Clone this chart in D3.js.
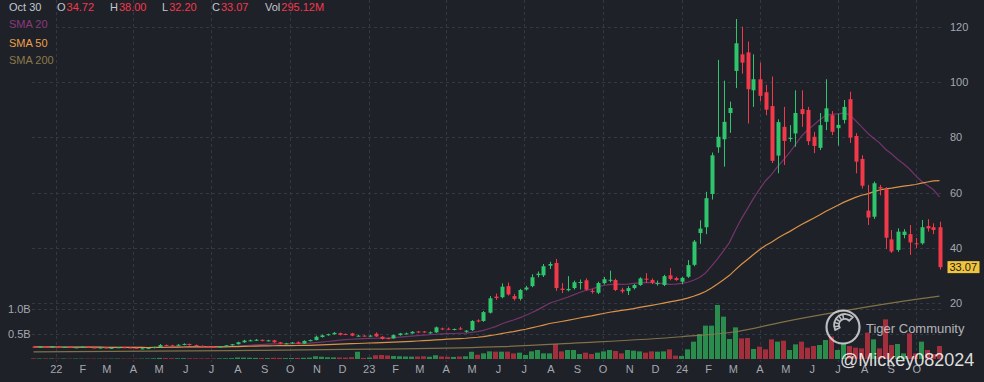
<!DOCTYPE html>
<html>
<head>
<meta charset="utf-8">
<script src="https://cdn.jsdelivr.net/npm/d3@7/dist/d3.min.js"></script>
<style>
    body { margin: 0; background: #1e2128; }
    svg { display: block; font-family: "Liberation Sans", Arial, sans-serif; }
</style>
</head>
<body>
<svg id="chart" width="984" height="382"></svg>
<script>
// weekly candles, first week starts Monday 2021-12-06
var firstWeek = "2021-12-06";

// [open, high, low, close]
var ohlc = [
    [4.3, 4.6, 4.0, 4.2], [4.2, 4.4, 4.0, 4.3], [4.3, 4.5, 4.0, 4.1], [4.1, 4.4, 4.0, 4.3],
    [4.3, 4.5, 4.0, 4.1], [4.1, 4.3, 3.9, 4.2], [4.2, 4.4, 3.9, 4.0], [4.0, 4.2, 3.7, 4.1],
    [4.1, 4.4, 3.9, 4.3], [4.3, 4.4, 3.9, 4.0], [4.0, 4.2, 3.8, 3.9], [3.9, 4.1, 3.7, 4.0],
    [4.0, 4.1, 3.7, 3.8], [3.8, 4.0, 3.6, 3.9], [3.9, 4.2, 3.8, 4.1], [4.1, 4.3, 3.9, 4.0],
    [4.0, 4.2, 3.8, 3.9], [3.9, 4.0, 3.5, 3.6], [3.6, 3.8, 3.4, 3.7], [3.7, 3.9, 3.5, 3.8],
    [3.8, 4.3, 3.7, 4.2], [4.2, 5.3, 4.1, 4.9], [4.9, 5.1, 4.5, 4.8], [4.8, 5.0, 4.5, 4.7],
    [4.7, 5.2, 4.6, 5.0], [5.0, 5.5, 4.8, 5.3], [5.3, 5.4, 4.7, 4.9], [4.9, 5.1, 4.5, 4.6],
    [4.6, 4.8, 4.2, 4.4], [4.4, 4.6, 4.1, 4.3], [4.3, 4.5, 4.0, 4.2], [4.2, 4.5, 4.0, 4.4],
    [4.4, 4.9, 4.3, 4.8], [4.8, 5.3, 4.7, 5.2], [5.2, 6.1, 5.1, 5.9], [5.9, 6.8, 5.7, 6.5],
    [6.5, 6.9, 6.3, 6.6], [6.6, 7.1, 6.4, 6.8], [6.8, 6.9, 6.2, 6.4], [6.4, 6.8, 6.2, 6.6],
    [6.6, 6.8, 5.7, 5.9], [5.9, 6.0, 5.2, 5.4], [5.4, 5.7, 5.2, 5.5], [5.5, 6.0, 5.4, 5.8],
    [5.9, 6.2, 5.2, 5.4], [5.4, 6.6, 5.3, 6.4], [6.4, 6.9, 6.2, 6.7], [6.7, 8.3, 6.6, 7.9],
    [7.8, 8.7, 7.6, 8.4], [8.5, 9.0, 8.3, 8.8], [8.8, 9.6, 8.6, 9.3], [9.2, 9.4, 8.4, 8.6],
    [8.9, 9.1, 8.5, 8.8], [9.1, 9.3, 8.1, 8.3], [8.2, 8.5, 7.9, 8.3], [8.3, 8.5, 8.0, 8.2],
    [8.2, 8.5, 7.9, 8.3], [9.0, 9.5, 7.8, 8.0], [7.9, 8.1, 6.9, 7.1], [7.4, 7.6, 7.0, 7.3],
    [7.3, 8.7, 7.2, 8.5], [8.5, 9.3, 8.3, 9.1], [9.0, 9.4, 8.8, 9.1], [9.1, 9.9, 9.0, 9.7],
    [9.8, 10.0, 9.3, 9.7], [9.8, 10.0, 9.3, 9.6], [9.3, 9.8, 9.0, 9.5], [9.5, 11.6, 9.3, 11.3],
    [10.9, 11.2, 10.3, 10.7], [10.8, 11.2, 10.3, 10.6], [10.5, 10.9, 10.2, 10.7], [10.9, 11.5, 10.4, 10.6],
    [9.7, 10.3, 9.4, 10.1], [10.3, 13.9, 10.0, 13.6], [13.8, 14.2, 13.1, 13.6], [13.6, 17.2, 13.3, 16.8],
    [16.6, 22.6, 16.3, 21.8], [22.4, 23.5, 21.2, 21.9], [22.2, 27.2, 21.8, 26.0], [26.2, 27.5, 22.8, 23.2],
    [22.6, 23.4, 21.0, 21.6], [21.6, 25.2, 21.0, 24.8], [25.0, 26.3, 24.6, 25.7], [26.2, 30.5, 25.8, 29.4],
    [30.2, 31.5, 29.4, 30.7], [30.1, 34.2, 29.5, 33.4], [33.6, 35.0, 32.4, 34.2], [34.6, 36.0, 24.5, 25.5],
    [25.3, 27.3, 23.7, 24.8], [24.7, 29.8, 24.3, 25.2], [25.5, 28.2, 25.0, 27.6], [27.4, 28.6, 25.0, 27.7],
    [28.3, 29.0, 24.6, 24.9], [24.5, 25.2, 23.5, 24.1], [23.8, 27.8, 23.3, 27.3], [27.3, 29.5, 26.8, 28.7],
    [28.2, 31.8, 27.6, 28.5], [28.4, 28.9, 24.4, 24.8], [24.9, 25.6, 23.6, 24.3], [24.4, 26.2, 23.0, 25.5],
    [25.5, 27.0, 25.0, 26.6], [26.6, 29.4, 26.3, 29.0], [28.9, 30.9, 27.3, 28.5], [28.4, 29.0, 26.9, 27.4],
    [27.1, 28.2, 26.4, 27.3], [26.6, 30.3, 26.2, 29.8], [30.1, 32.7, 28.3, 28.8], [29.1, 29.6, 28.1, 28.4],
    [27.8, 29.6, 26.9, 29.2], [29.6, 35.6, 29.2, 33.8], [33.9, 42.9, 33.4, 42.3], [45.4, 50.0, 41.5, 47.0],
    [47.5, 60.3, 45.0, 58.0], [59.5, 74.5, 57.5, 73.5], [76.4, 108.0, 74.4, 80.2], [79.3, 100.5, 69.4, 85.6],
    [88.8, 92.9, 81.6, 90.6], [104.0, 122.8, 97.8, 114.0], [110.0, 120.0, 103.0, 107.0], [110.7, 114.6, 85.0, 97.4],
    [97.0, 110.0, 91.0, 101.0], [101.0, 107.0, 93.0, 95.0], [96.3, 99.0, 88.0, 90.0], [91.3, 102.0, 70.7, 71.5],
    [73.4, 86.5, 67.0, 85.5], [83.8, 91.0, 70.0, 78.7], [79.4, 84.4, 78.4, 79.8], [81.4, 97.0, 76.6, 88.8],
    [90.2, 97.0, 83.8, 88.4], [89.9, 91.0, 77.2, 78.6], [80.2, 82.0, 74.3, 76.9], [76.2, 88.8, 75.4, 84.4],
    [85.6, 101.0, 82.6, 90.5], [88.0, 89.5, 80.8, 82.0], [83.3, 88.5, 77.0, 84.5], [86.3, 93.5, 85.0, 91.0],
    [93.8, 96.5, 78.0, 79.9], [80.5, 81.5, 67.0, 71.2], [72.2, 73.5, 61.5, 62.5], [53.5, 62.8, 48.3, 51.0],
    [51.3, 64.0, 50.5, 63.4], [62.0, 62.8, 59.0, 61.5], [61.3, 62.0, 39.6, 43.7], [43.1, 46.5, 38.2, 38.7],
    [39.3, 47.1, 38.6, 45.9], [44.7, 46.8, 43.5, 45.9], [45.0, 48.3, 37.5, 42.0], [41.7, 43.6, 40.0, 41.4],
    [41.7, 50.1, 41.2, 47.5], [47.9, 50.4, 45.9, 47.1], [47.5, 48.9, 45.0, 46.5], [47.5, 49.5, 32.2, 33.07]
];

// weekly volume, millions of shares
var volume = [
    14, 11, 12, 10,
    9, 10, 8, 9, 8, 9, 8, 7, 9, 8, 9, 8, 7, 9, 8, 10,
    14, 22, 18, 16, 15, 16, 14, 13, 12, 12, 11, 13, 15, 18,
    30, 28, 25, 22, 20, 18, 24, 22, 18, 20, 22, 24, 28,
    55, 45, 35, 32, 30, 28, 35, 145,
    22, 30, 75, 80, 70,
    60, 55, 50, 48, 50, 55, 45, 75, 50, 45, 42, 50, 55, 145, 85,
    113, 153, 147, 147, 147, 113, 127, 80, 153, 180, 113, 113, 300, 153, 180, 180, 100,
    127, 100, 127, 153, 180, 160, 113, 180, 167, 153, 127, 153, 147, 153, 193, 67,
    60, 193, 347, 500, 667, 667, 1080, 847, 400, 633, 413, 420, 200, 247, 193, 393,
    347, 367, 180, 293, 347, 227, 260, 280, 380,
    450, 180, 313, 260, 227, 213, 527, 393, 213, 793, 280, 300, 113, 513, 113, 347, 180, 100, 260
];

// SMA 200 (needs history older than the window)
var sma200Dates = ["2021-12-06", "2022-07-25", "2023-01-02", "2023-06-05", "2023-08-28", "2024-01-01",
    "2024-03-04", "2024-04-29", "2024-07-15", "2024-09-30", "2024-10-28"];
var sma200 = [2.4, 2.9, 3.4, 4.3, 5.6, 7.9, 9.7, 13.3, 17.6, 21.4, 22.6];

var priceTicks = [20, 40, 60, 80, 100, 120];
var volumeTicks = [500, 1000];
var volumeTickLabels = ["0.5B", "1.0B"];
var monthLetters = ["J", "F", "M", "A", "M", "J", "J", "A", "S", "O", "N", "D"];

var headerDate = "Oct 30";
var headerKeys = ["O", "H", "L", "C", "Vol"];
var headerValues = ["34.72", "38.00", "32.20", "33.07", "295.12M"];
var lastPrice = "33.07";
var smaNames = ["SMA 20", "SMA 50", "SMA 200"];
var smaColors = ["#8a3a7c", "#ee9f4a", "#8c7a4a"];

var up = "#2fc56d", down = "#f2394a";
var upVol = "#2a8c4d", downVol = "#a22f3b";
var gridColor = "#343844";
var textColor = "#a4a8b0";

var width = 984, height = 382;
var parse = d3.timeParse("%Y-%m-%d");
var start = parse(firstWeek);
var dates = d3.timeMonday.range(start, d3.timeDay.offset(start, 7 * ohlc.length));

var candles = ohlc.map(function (d, i) {
    return {date: dates[i], o: d[0], h: d[1], l: d[2], c: d[3], v: volume[i]};
});

var x = d3.scaleTime()
    .domain([dates[0], dates[dates.length - 1]])
    .range([33.5, 939.5]);

var y = d3.scaleLinear().domain([0, 120]).range([358.6, 26.7]);
var yv = d3.scaleLinear().domain([0, 1000]).range([359, 309]);

var svg = d3.select("#chart");

svg.append("rect").attr("width", width).attr("height", height).attr("fill", "#1e2128");

// grid
var grid = svg.append("g")
    .attr("stroke", gridColor)
    .attr("stroke-dasharray", "3,3")
    .attr("stroke-width", 1);

var quarters = d3.timeMonth.every(3).range(d3.timeMonth.ceil(dates[0]), dates[dates.length - 1]);
grid.selectAll(".vg")
    .data(quarters)
    .enter().append("line")
    .attr("x1", function (d) { return Math.round(x(d)) + 0.5; })
    .attr("x2", function (d) { return Math.round(x(d)) + 0.5; })
    .attr("y1", 0)
    .attr("y2", 362);

grid.selectAll(".hg")
    .data(priceTicks)
    .enter().append("line")
    .attr("x1", 32).attr("x2", 943)
    .attr("y1", function (d) { return Math.round(y(d)) + 0.5; })
    .attr("y2", function (d) { return Math.round(y(d)) + 0.5; });

grid.selectAll(".vhg")
    .data(volumeTicks)
    .enter().append("line")
    .attr("x1", 32).attr("x2", 943)
    .attr("y1", function (d) { return Math.round(yv(d)) + 0.5; })
    .attr("y2", function (d) { return Math.round(yv(d)) + 0.5; });

// volume
svg.append("g").selectAll("rect")
    .data(candles)
    .enter().append("rect")
    .attr("x", function (d) { return x(d.date) - 2.5; })
    .attr("width", 5)
    .attr("y", function (d) { return yv(d.v); })
    .attr("height", function (d) { return yv(0) - yv(d.v); })
    .attr("fill", function (d) { return d.c >= d.o ? upVol : downVol; });

// moving averages
function movingAverage(n) {
    return candles.map(function (d, i) {
        var from = Math.max(0, i - n + 1);
        return {date: d.date, value: d3.mean(candles.slice(from, i + 1), function (e) { return e.c; })};
    });
}

var line = d3.line()
    .x(function (d) { return x(d.date); })
    .y(function (d) { return y(d.value); });

var smaSeries = [
    movingAverage(20),
    movingAverage(50),
    sma200.map(function (v, i) { return {date: parse(sma200Dates[i]), value: v}; })
];

svg.append("g").selectAll("path")
    .data(smaSeries)
    .enter().append("path")
    .attr("fill", "none")
    .attr("stroke", function (d, i) { return smaColors[i]; })
    .attr("stroke-width", 1.2)
    .attr("stroke-opacity", function (d, i) { return i === 0 ? 0.8 : 0.9; })
    .attr("d", function (d, i) {
        return line.curve(i === 2 ? d3.curveMonotoneX : d3.curveLinear)(d);
    });

// candles
var cg = svg.append("g").selectAll("g")
    .data(candles)
    .enter().append("g")
    .attr("fill", function (d) { return d.c >= d.o ? up : down; })
    .attr("stroke", function (d) { return d.c >= d.o ? up : down; });

cg.append("line")
    .attr("x1", function (d) { return Math.round(x(d.date)) + 0.5; })
    .attr("x2", function (d) { return Math.round(x(d.date)) + 0.5; })
    .attr("y1", function (d) { return y(d.h); })
    .attr("y2", function (d) { return y(d.l); })
    .attr("stroke-width", 1);

cg.append("rect")
    .attr("stroke", "none")
    .attr("x", function (d) { return Math.round(x(d.date)) - 1.5; })
    .attr("width", 4)
    .attr("y", function (d) { return y(Math.max(d.o, d.c)); })
    .attr("height", function (d) { return Math.max(1, Math.abs(y(d.o) - y(d.c))); });

// axes
var monthTicks = d3.timeMonth.range(d3.timeMonth.ceil(dates[0]), dates[dates.length - 1]);
var xAxis = svg.append("g")
    .attr("transform", "translate(0,365)")
    .call(d3.axisBottom(x)
        .tickValues(monthTicks)
        .tickSize(0)
        .tickPadding(0)
        .tickFormat(function (d) {
            return d.getMonth() === 0 ? d3.timeFormat("%y")(d) : monthLetters[d.getMonth()];
        }));

var yAxis = svg.append("g")
    .attr("transform", "translate(950,0)")
    .call(d3.axisRight(y).tickValues(priceTicks).tickSize(0).tickPadding(0));

var vAxis = svg.append("g")
    .attr("transform", "translate(8,0)")
    .call(d3.axisRight(yv).tickValues(volumeTicks).tickSize(0).tickPadding(0)
        .tickFormat(function (d, i) { return volumeTickLabels[i]; }));

[xAxis, yAxis, vAxis].forEach(function (a) {
    a.select(".domain").remove();
    a.selectAll("text")
        .attr("fill", textColor)
        .attr("font-size", 11)
        .attr("font-family", "'Liberation Sans', Arial, sans-serif");
});

// last price tag
var last = candles[candles.length - 1];
svg.append("rect")
    .attr("x", 947.5).attr("width", 32)
    .attr("y", y(last.c) - 6).attr("height", 12)
    .attr("fill", "#f0c43c");
svg.append("text")
    .attr("x", 949.5).attr("y", y(last.c) + 4)
    .attr("font-size", 11)
    .attr("fill", "#1b1b1b")
    .text(lastPrice);

// header
var header = svg.append("g").attr("font-size", 11);
header.append("text").attr("x", 9).attr("y", 11).attr("fill", "#c3c7cf").text(headerDate);
var keyX = [57, 110, 162, 212, 265];
headerKeys.forEach(function (k, i) {
    var t = header.append("text").attr("x", keyX[i]).attr("y", 11).attr("fill", "#c3c7cf").text(k);
    var w = t.node().getComputedTextLength();
    header.append("text").attr("x", keyX[i] + w + 1).attr("y", 11).attr("fill", "#f7374c").text(headerValues[i]);
});

var legend = svg.append("g").attr("font-size", 11);
legend.append("rect").attr("x", 0).attr("y", 15).attr("width", 54).attr("height", 54).attr("fill", "#1e2128");
legend.selectAll("text")
    .data(smaNames)
    .enter().append("text")
    .attr("x", 9)
    .attr("y", function (d, i) { return [28, 47, 64][i]; })
    .attr("fill", function (d, i) { return smaColors[i]; })
    .text(function (d) { return d; });

// watermark
var wm = svg.append("g").attr("opacity", 0.8);
wm.append("circle")
    .attr("cx", 843).attr("cy", 327).attr("r", 16.5)
    .attr("fill", "none").attr("stroke", "#e4e5e8").attr("stroke-width", 2.2);
var tail = d3.arc().innerRadius(6).outerRadius(11).startAngle(Math.PI * 1.35).endAngle(Math.PI * 2.25);
wm.append("path")
    .attr("transform", "translate(845,325)")
    .attr("d", tail())
    .attr("fill", "none").attr("stroke", "#e4e5e8").attr("stroke-width", 1.8);
wm.selectAll(".stripe")
    .data(d3.range(5))
    .enter().append("line")
    .attr("transform", "translate(845,325)")
    .attr("x1", function (d) { var a = Math.PI * (1.45 + d * 0.12); return Math.sin(a) * 6; })
    .attr("y1", function (d) { var a = Math.PI * (1.45 + d * 0.12); return -Math.cos(a) * 6; })
    .attr("x2", function (d) { var a = Math.PI * (1.45 + d * 0.12); return Math.sin(a) * 11; })
    .attr("y2", function (d) { var a = Math.PI * (1.45 + d * 0.12); return -Math.cos(a) * 11; })
    .attr("stroke", "#e4e5e8").attr("stroke-width", 1.5);
wm.append("text")
    .attr("x", 866).attr("y", 333)
    .attr("font-size", 13)
    .attr("fill", "#d6d8dc")
    .text("Tiger Community");
svg.append("text")
    .attr("x", 840).attr("y", 366)
    .attr("font-size", 18)
    .attr("fill", "#ffffff")
    .attr("fill-opacity", 0.85)
    .text("@Mickey082024");
</script>
</body>
</html>
